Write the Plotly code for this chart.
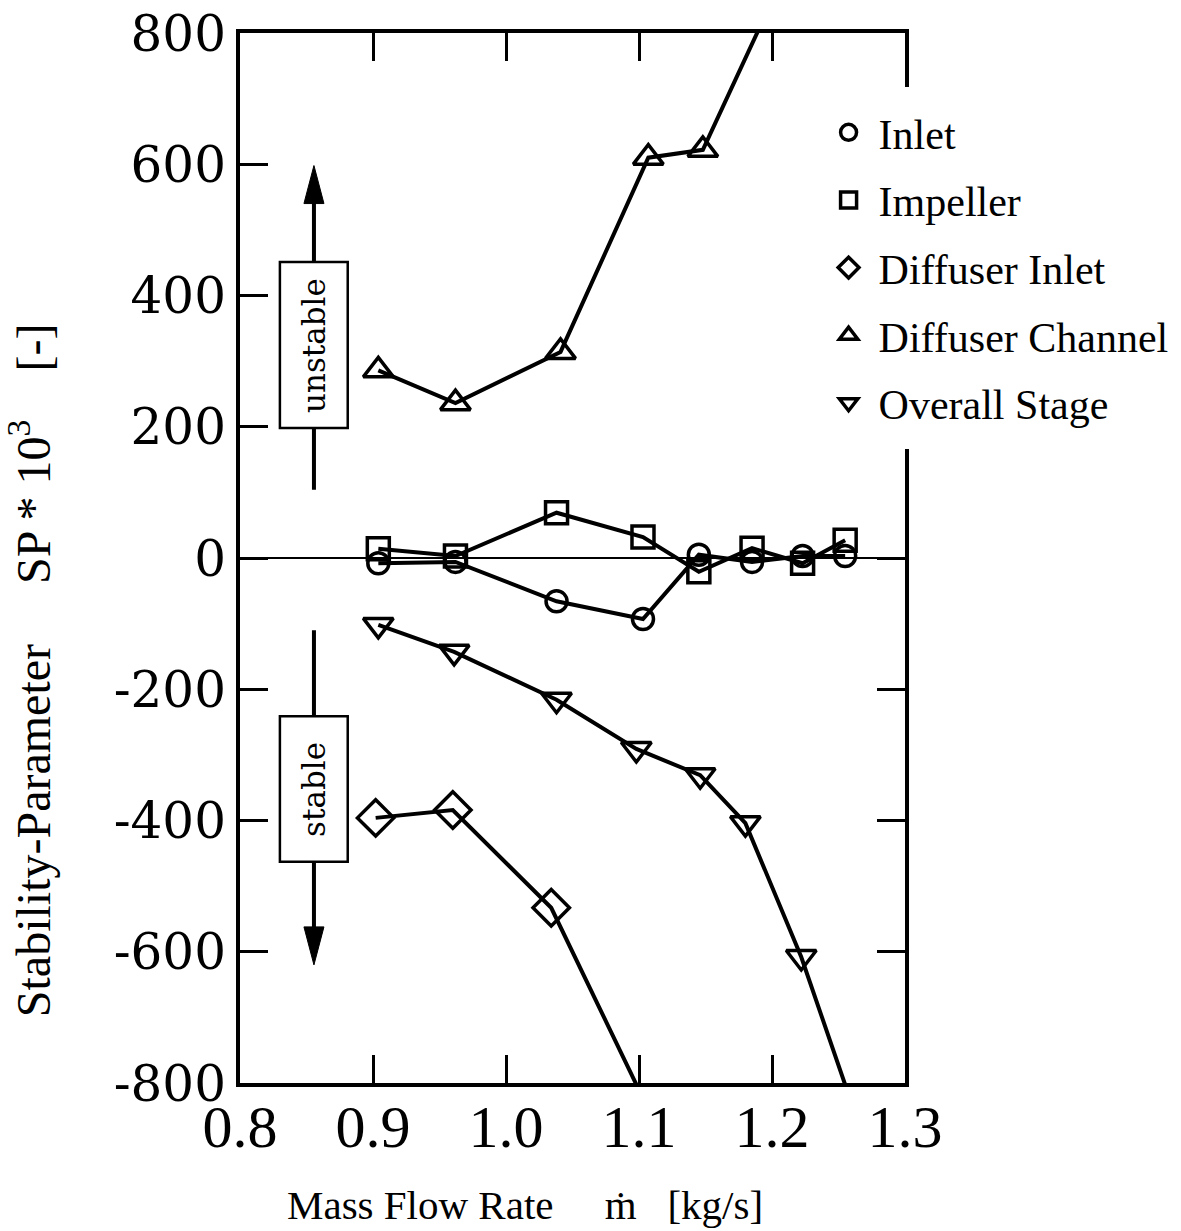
import plotly.graph_objects as go

# Mass flow rate operating points [kg/s]
mass_flow = [0.904, 0.962, 1.038, 1.103, 1.145, 1.185, 1.223, 1.255]

# Stability parameter SP * 10^3 for each component
inlet = [-8, -6, -66, -93, 5, -6, 3, 3]
impeller = [14, 3, 69, 32, -21, 15, -8, 27]

# Diffuser and stage values run past the plotted range; the axis clips them
diffuser_inlet_flow = [0.902, 0.960, 1.034, 1.145]
diffuser_inlet = [-396, -384, -533, -1000]

diffuser_channel_flow = [0.904, 0.962, 1.041, 1.107, 1.148, 1.225]
diffuser_channel = [286, 236, 314, 610, 622, 958]

overall_flow = [0.904, 0.961, 1.038, 1.098, 1.146, 1.180, 1.222, 1.26]
overall_stage = [-102, -143, -216, -291, -331, -404, -608, -832]

x_ticks = [0.8, 0.9, 1.0, 1.1, 1.2, 1.3]
x_tick_text = ["0.8", "0.9", "1.0", "1.1", "1.2", "1.3"]
y_ticks = [-800, -600, -400, -200, 0, 200, 400, 600, 800]
y_tick_text = ["-800", "-600", "-400", "-200", "0", "200", "400", "600", "800"]

series = [
    ("Inlet", mass_flow, inlet, "circle-open", 21),
    ("Impeller", mass_flow, impeller, "square-open", 22),
    ("Diffuser Inlet", diffuser_inlet_flow, diffuser_inlet, "diamond-open", 28),
    ("Diffuser Channel", diffuser_channel_flow, diffuser_channel, "triangle-up-open", 26),
    ("Overall Stage", overall_flow, overall_stage, "triangle-down-open", 26),
]

fig = go.Figure()
for name, xs, ys, symbol, size in series:
    # connecting line (kept out of the legend)
    fig.add_trace(go.Scatter(
        x=xs, y=ys, name=name, mode="lines", legendgroup=name,
        showlegend=False, line=dict(color="black", width=4),
        cliponaxis=True, hoverinfo="skip",
    ))
    # open symbols; the legend shows only the symbol
    fig.add_trace(go.Scatter(
        x=xs, y=ys, name=name, mode="markers", legendgroup=name,
        marker=dict(symbol=symbol, size=size, color="black",
                    line=dict(color="black", width=3.5)),
        cliponaxis=True,
    ))

SERIF = "Liberation Serif"
WIDE = "DejaVu Serif"
AX_X = 0.8556
NB = "\u00a0"

shapes = []
annotations = []

# "unstable" / "stable" indicators: shaft, arrowhead, labelled box
for label, y_tail, y_tip, box_lo, box_hi, up in [
    ("unstable", 104, 598, 198, 451, True),
    ("stable", -110, -620, -463, -241, False),
]:
    shaft_end = y_tip - 30 if up else y_tip + 30
    shapes.append(dict(type="line", xref="x", yref="y", x0=AX_X, x1=AX_X,
                       y0=y_tail, y1=shaft_end, line=dict(color="black", width=4)))
    head = "M-10,-38 L10,-38 L0,0 Z" if up else "M-10,38 L10,38 L0,0 Z"
    shapes.append(dict(type="path", xref="x", yref="y", xsizemode="pixel",
                       ysizemode="pixel", xanchor=AX_X, yanchor=y_tip,
                       path=head, fillcolor="black", line=dict(color="black", width=1)))
    shapes.append(dict(type="rect", xref="x", yref="y", x0=0.830, x1=0.881,
                       y0=box_lo, y1=box_hi, fillcolor="white",
                       line=dict(color="black", width=2.5)))
    annotations.append(dict(x=AX_X, y=(box_lo + box_hi) / 2, xref="x", yref="y",
                            text=label, textangle=-90, showarrow=False,
                            font=dict(family=WIDE, size=31, color="black")))

annotations.append(dict(
    x=0.4286, y=-0.116, xref="paper", yref="paper",
    xanchor="center", yanchor="middle",
    text="Mass Flow Rate" + NB * 5 + "\u1e41" + NB * 3 + "[kg/s]",
    showarrow=False, font=dict(family=SERIF, size=41, color="black"),
))
annotations.append(dict(
    x=-0.316, y=0.393, xref="paper", yref="paper", textangle=-90,
    xanchor="center", yanchor="middle",
    text="Stability-Parameter" + NB * 5 + "SP * 10<sup>3</sup>" + NB * 4 + "[-]",
    showarrow=False, font=dict(family=SERIF, size=48, color="black"),
))

axis_common = dict(
    ticks="inside", ticklen=28, tickwidth=3, tickcolor="black",
    showline=True, linewidth=4, linecolor="black", mirror="allticks",
    showgrid=False,
)

fig.update_layout(
    width=1181, height=1231,
    margin=dict(l=240, r=276, t=33, b=148, autoexpand=False),
    paper_bgcolor="white", plot_bgcolor="white",
    xaxis=dict(range=[0.8, 1.3], tickvals=x_ticks, ticktext=x_tick_text,
               zeroline=False, ticklabelstandoff=-12,
               tickfont=dict(family=SERIF, size=60, color="black"),
               **axis_common),
    yaxis=dict(range=[-800, 800], tickvals=y_ticks, ticktext=y_tick_text,
               zeroline=True, zerolinecolor="black", zerolinewidth=2,
               tickfont=dict(family=WIDE, size=50, color="black"),
               **axis_common),
    showlegend=True,
    legend=dict(x=0.852, y=0.949, xanchor="left", yanchor="top",
                bgcolor="white", bordercolor="white", borderwidth=12,
                traceorder="grouped", tracegroupgap=10, itemwidth=50,
                font=dict(family=SERIF, size=42, color="black")),
    shapes=shapes,
    annotations=annotations,
)

fig.write_html("out.html")
